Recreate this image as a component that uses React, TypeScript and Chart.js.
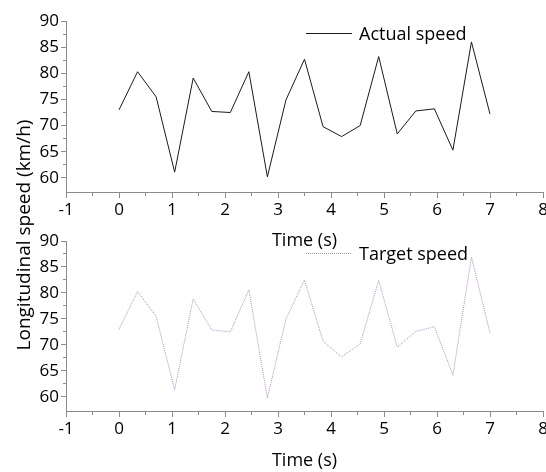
import React, { useEffect, useRef } from "react";
import { Chart, registerables } from "chart.js";

Chart.register(...registerables);

const times = [0, 0.35, 0.7, 1.05, 1.4, 1.75, 2.1, 2.45, 2.8, 3.15, 3.5, 3.85, 4.2, 4.55, 4.9, 5.25, 5.6, 5.95, 6.3, 6.65, 7.0];
const actualSpeed = [73.0, 80.3, 75.5, 61.1, 79.1, 72.7, 72.5, 80.3, 60.2, 74.9, 82.7, 69.8, 67.9, 70.0, 83.2, 68.4, 72.8, 73.2, 65.3, 86.0, 72.2];
const targetSpeed = [73.0, 80.3, 75.5, 61.4, 78.9, 72.9, 72.5, 80.6, 59.8, 75.0, 82.5, 70.7, 67.7, 70.2, 82.4, 69.6, 72.6, 73.5, 64.2, 86.9, 72.3];
const xTickValues = [-1, -0.5, 0, 0.5, 1, 1.5, 2, 2.5, 3, 3.5, 4, 4.5, 5, 5.5, 6, 6.5, 7, 7.5, 8];
const yTickValues = [60, 62.5, 65, 67.5, 70, 72.5, 75, 77.5, 80, 82.5, 85, 87.5, 90];
const xTitle = "Time (s)";
const yTitle = "Longitudinal speed (km/h)";
const FONT = '"Open Sans", "Noto Sans", sans-serif';
const AXIS = "#8c8c8c";

function makeChart(
  canvas: HTMLCanvasElement,
  values: number[],
  label: string,
  color: string,
  dash: number[],
  padTop: number,
  xAxisHeight: number
) {
  const legendPlugin = {
    id: "customLegend",
    afterDraw(chart: any) {
      const { ctx, chartArea } = chart;
      const y = Math.round(chartArea.top + 12) + 0.5;
      const x = chartArea.left + 240;
      ctx.save();
      ctx.strokeStyle = color;
      ctx.lineWidth = 1;
      ctx.setLineDash(dash);
      ctx.beginPath();
      ctx.moveTo(x, y);
      ctx.lineTo(x + 46, y);
      ctx.stroke();
      ctx.setLineDash([]);
      ctx.font = `18px ${FONT}`;
      ctx.fillStyle = "#000";
      ctx.textBaseline = "middle";
      ctx.fillText(label, x + 53, y + 1);
      ctx.restore();
    },
  };
  return new Chart(canvas, {
    type: "line",
    data: {
      datasets: [
        {
          label,
          data: times.map((t, i) => ({ x: t, y: values[i] })),
          borderColor: color,
          borderWidth: 1,
          borderDash: dash,
          pointRadius: 0,
          tension: 0,
          fill: false,
        },
      ],
    },
    options: {
      responsive: false,
      animation: false,
      layout: { padding: { left: 22, right: 17, top: padTop, bottom: 0 } },
      plugins: { legend: { display: false }, tooltip: { enabled: false } },
      scales: {
        x: {
          type: "linear",
          min: -1,
          max: 8,
          afterBuildTicks: (s: any) => {
            s.ticks = xTickValues.map((v) => ({ value: v }));
          },
          afterFit: (s: any) => {
            s.height = xAxisHeight;
          },
          border: { color: AXIS, width: 1 },
          grid: {
            drawOnChartArea: false,
            tickLength: 6,
            tickColor: AXIS,
            tickBorderDash: (c: any) => (c.tick && !Number.isInteger(c.tick.value) ? [3, 20] : []),
          },
          ticks: {
            autoSkip: false,
            maxRotation: 0,
            padding: 2,
            color: "#000",
            font: { family: FONT, size: 17 },
            callback: (v: any) => (Number.isInteger(v) ? String(v) : ""),
          },
          title: {
            display: true,
            text: xTitle,
            color: "#000",
            font: { family: FONT, size: 18 },
            padding: 0,
          },
        },
        y: {
          type: "linear",
          min: 57.3,
          max: 90,
          afterBuildTicks: (s: any) => {
            s.ticks = yTickValues.map((v) => ({ value: v }));
          },
          afterFit: (s: any) => {
            s.width = 44;
          },
          border: { color: AXIS, width: 1 },
          grid: {
            drawOnChartArea: false,
            tickLength: 5,
            tickColor: AXIS,
            tickBorderDash: (c: any) => (c.tick && c.tick.value % 5 !== 0 ? [0, 2, 3, 20] : []),
          },
          ticks: {
            autoSkip: false,
            padding: 2,
            color: "#000",
            font: { family: FONT, size: 17 },
            callback: (v: any) => (v % 5 === 0 ? String(v) : ""),
          },
        },
      },
    },
    plugins: [legendPlugin],
  } as any);
}

export default function App() {
  const topRef = useRef<HTMLCanvasElement>(null);
  const botRef = useRef<HTMLCanvasElement>(null);

  useEffect(() => {
    const c1 = makeChart(topRef.current!, actualSpeed, "Actual speed", "#1a1a1a", [], 21, 60);
    const c2 = makeChart(botRef.current!, targetSpeed, "Target speed", "#b58ac4", [1, 1], 19, 61);
    return () => {
      c1.destroy();
      c2.destroy();
    };
  }, []);

  return (
    <div
      style={{
        position: "absolute",
        left: 0,
        top: 0,
        width: 546,
        height: 472,
        overflow: "hidden",
        background: "#fff",
      }}
    >
      <canvas ref={topRef} width={560} height={252} style={{ position: "absolute", left: 0, top: 0 }} />
      <canvas ref={botRef} width={560} height={250} style={{ position: "absolute", left: 0, top: 222 }} />
      <div
        style={{
          position: "absolute",
          left: 23 - 140,
          top: 235 - 13,
          width: 280,
          height: 26,
          lineHeight: "26px",
          textAlign: "center",
          transform: "rotate(-90deg)",
          fontFamily: FONT,
          fontSize: 19,
          color: "#000",
          whiteSpace: "nowrap",
        }}
      >
        {yTitle}
      </div>
    </div>
  );
}
